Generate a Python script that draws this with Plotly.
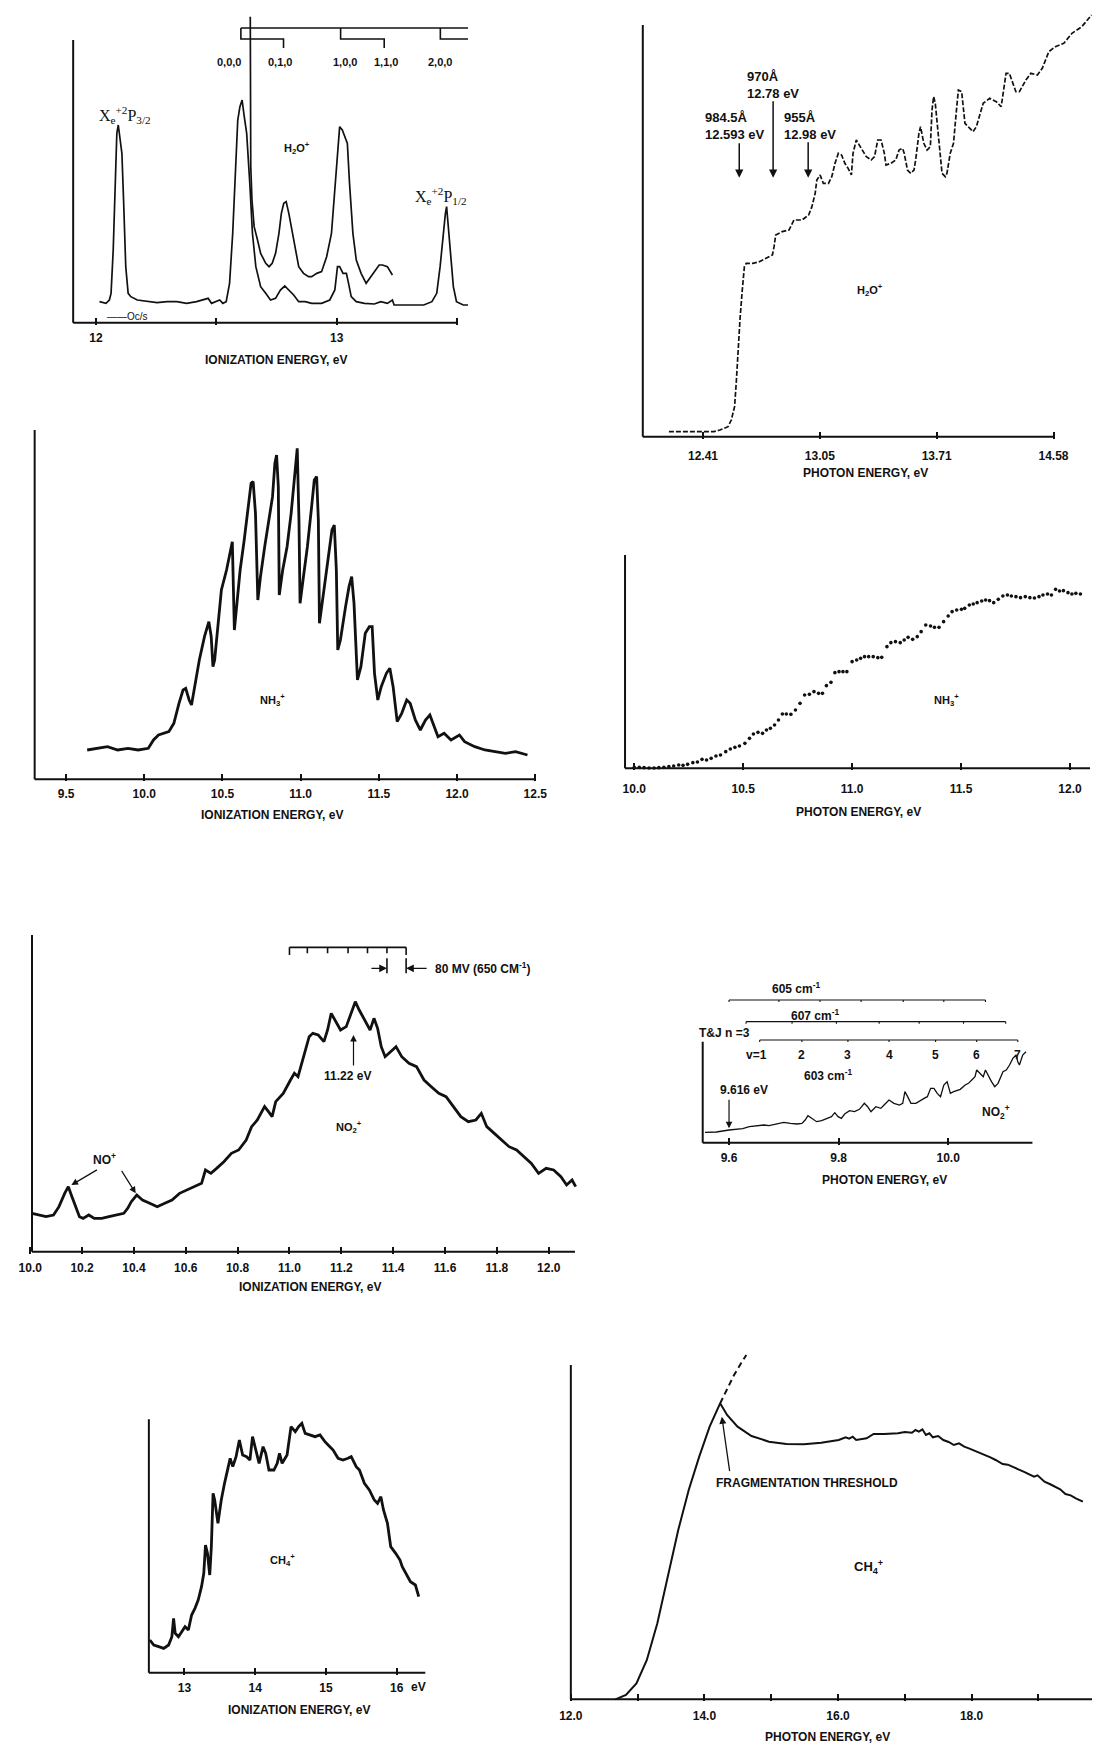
import plotly.graph_objects as go

W, H = 1097, 1745

# ---------------- DATA (intensities in arbitrary units) ----------------
# Panel 1: H2O+ photoelectron spectrum (ionization energy, eV)
h2o_pes_E = [12.015, 12.042, 12.056, 12.063, 12.072, 12.081, 12.087, 12.093, 12.101, 12.108,
             12.115, 12.124, 12.134, 12.145, 12.172, 12.213, 12.254, 12.295, 12.336, 12.377,
             12.418, 12.466, 12.480, 12.514, 12.527, 12.541, 12.555, 12.568, 12.579, 12.589,
             12.598, 12.607, 12.616, 12.626, 12.639, 12.650, 12.664, 12.684, 12.705, 12.725,
             12.746, 12.766, 12.784, 12.801, 12.821, 12.842, 12.869, 12.896, 12.937, 12.971,
             12.992, 13.003, 13.012, 13.026, 13.040, 13.049, 13.060, 13.081, 13.115, 13.156,
             13.183, 13.210, 13.231, 13.238, 13.279, 13.320, 13.361, 13.395, 13.415, 13.429,
             13.440, 13.451, 13.456, 13.463, 13.473, 13.484, 13.497, 13.525, 13.545]
h2o_pes_I = [63, 58, 68, 88, 218, 418, 568, 593, 548, 508,
             368, 168, 88, 78, 68, 63, 60, 63, 63, 58,
             63, 73, 58, 68, 58, 63, 118, 268, 468, 608,
             648, 668, 618, 568, 418, 268, 168, 108, 88, 68,
             73, 98, 110, 98, 83, 63, 63, 58, 58, 68,
             98, 168, 168, 148, 148, 118, 78, 63, 58, 56,
             63, 58, 68, 53, 53, 53, 53, 63, 88, 168,
             258, 328, 348, 288, 208, 108, 63, 53, 53]
h2o_pes_hi_E = [12.641, 12.641, 12.643, 12.648, 12.657, 12.671, 12.684, 12.705, 12.719, 12.732,
                12.746, 12.760, 12.770, 12.780, 12.790, 12.801, 12.814, 12.828, 12.842, 12.862,
                12.883, 12.896, 12.917, 12.937, 12.958, 12.978, 12.992, 13.003, 13.012, 13.023,
                13.033, 13.044, 13.053, 13.067, 13.081, 13.101, 13.122, 13.142, 13.163, 13.176,
                13.190, 13.210, 13.231]
h2o_pes_hi_I = [918, 668, 468, 368, 288, 248, 208, 178, 168, 178,
                208, 268, 328, 358, 363, 328, 278, 218, 168, 148,
                138, 138, 148, 153, 198, 268, 408, 518, 588, 578,
                558, 538, 418, 268, 188, 148, 118, 138, 158, 173,
                173, 168, 143]
h2o_levels = [12.602, 12.779, 13.016, 13.197, 13.430]   # 0,0,0  0,1,0  1,0,0  1,1,0  2,0,0
h2o_level_labels = ["0,0,0", "0,1,0", "1,0,0", "1,1,0", "2,0,0"]
h2o_comb_end = 13.545
h2o_pes_ticks = [12, 13]
h2o_pes_minor = [12.5, 13.5]

# Panel 2: H2O+ photoionization (axis linear in wavelength, Angstrom)
h2o_pi_wl = [1014.6, 1010.0, 1005.1, 1000.1, 995.4, 992.8, 990.7, 989.3, 987.9, 986.5,
             985.8, 985.1, 984.1, 983.2, 982.3, 981.5, 978.7, 975.9, 973.1, 970.3,
             969.6, 968.9, 966.1, 963.2, 961.1, 957.6, 954.8, 953.4, 952.0, 951.3,
             949.9, 948.5, 946.3, 944.9, 943.5, 942.1, 940.7, 939.3, 937.9, 936.5,
             935.8, 934.4, 932.3, 930.1, 928.0, 926.6, 925.2, 923.8, 922.4, 921.7,
             919.6, 917.5, 916.1, 914.6, 913.9, 912.5, 911.1, 909.7, 909.0, 907.6,
             906.9, 905.5, 904.1, 902.7, 902.0, 901.3, 900.6, 899.9, 898.7, 897.7,
             896.3, 895.6, 894.2, 892.8, 891.4, 890.7, 889.3, 887.9, 885.8, 884.4,
             883.0, 881.5, 880.1, 877.3, 874.5, 872.4, 871.0, 870.3, 868.9, 867.5,
             866.1, 864.6, 861.8, 859.7, 856.9, 854.8, 853.4, 852.0, 849.2, 845.6,
             842.1, 837.9, 833.7]
h2o_pi_I = [15, 15, 15, 15, 15, 20, 25, 30, 50, 90,
            160, 260, 360, 440, 510, 520, 520, 525, 535, 545,
            570, 605, 615, 620, 650, 650, 665, 690, 730, 770,
            785, 760, 760, 780, 820, 850, 845, 820, 805, 785,
            850, 890, 865, 840, 830, 840, 890, 890, 850, 815,
            820, 830, 860, 865, 850, 800, 790, 800, 830, 910,
            930, 880, 860, 870, 980, 1020, 1000, 950, 860, 790,
            780, 790, 850, 880, 990, 1040, 1035, 940, 925, 915,
            930, 970, 1000, 1015, 1005, 990, 1050, 1090, 1090, 1065,
            1035, 1035, 1070, 1090, 1085, 1105, 1130, 1155, 1170, 1180,
            1210, 1230, 1265]
h2o_pi_tick_wl = [1000, 950, 900, 850]
h2o_pi_ticktext = ["12.41", "13.05", "13.71", "14.58"]
h2o_pi_marks_wl = [984.5, 970, 955]
h2o_pi_marks_text = ["984.5Å<br>12.593 eV", "970Å<br>12.78 eV", "955Å<br>12.98 eV"]

# Panel 3: NH3+ photoelectron spectrum
nh3_pes_E = [9.635, 9.700, 9.765, 9.830, 9.896, 9.961, 10.026, 10.059, 10.091, 10.157,
             10.189, 10.222, 10.248, 10.265, 10.287, 10.302, 10.320, 10.352, 10.385, 10.413,
             10.428, 10.439, 10.450, 10.472, 10.493, 10.526, 10.552, 10.563, 10.576, 10.591,
             10.613, 10.639, 10.667, 10.683, 10.696, 10.711, 10.726, 10.743, 10.770, 10.798,
             10.820, 10.835, 10.846, 10.857, 10.863, 10.885, 10.913, 10.939, 10.961, 10.978,
             10.989, 10.996, 11.015, 11.043, 11.070, 11.087, 11.102, 11.113, 11.120, 11.135,
             11.157, 11.183, 11.200, 11.215, 11.228, 11.237, 11.254, 11.287, 11.309, 11.326,
             11.341, 11.363, 11.385, 11.413, 11.439, 11.457, 11.472, 11.493, 11.515, 11.548,
             11.570, 11.591, 11.617, 11.646, 11.678, 11.700, 11.733, 11.765, 11.798, 11.826,
             11.852, 11.878, 11.917, 11.961, 12.015, 12.048, 12.113, 12.178, 12.243, 12.309,
             12.374, 12.450]
nh3_pes_I = [88, 93, 98, 88, 93, 88, 93, 118, 133, 143,
             168, 228, 268, 273, 238, 223, 268, 358, 428, 473,
             428, 338, 358, 478, 568, 628, 688, 713, 448, 518,
             628, 718, 828, 888, 893, 798, 538, 608, 698, 788,
             848, 948, 973, 878, 553, 628, 698, 798, 918, 993,
             778, 528, 598, 698, 818, 898, 908, 778, 468, 518,
             598, 678, 748, 763, 628, 388, 418, 518, 578, 608,
             528, 298, 338, 438, 458, 458, 318, 238, 278, 318,
             333, 278, 173, 198, 238, 228, 178, 148, 178, 193,
             158, 128, 138, 118, 133, 113, 98, 88, 83, 78,
             83, 73]
nh3_pes_ticks = [9.5, 10.0, 10.5, 11.0, 11.5, 12.0, 12.5]

# Panel 4: NH3+ photoionization (dots)
nh3_pi_E = [10.000, 10.023, 10.045, 10.068, 10.091, 10.113, 10.136, 10.159, 10.181, 10.204,
            10.224, 10.245, 10.269, 10.290, 10.311, 10.332, 10.353, 10.375, 10.396, 10.420,
            10.441, 10.462, 10.483, 10.508, 10.529, 10.547, 10.568, 10.589, 10.607, 10.625,
            10.644, 10.662, 10.680, 10.698, 10.719, 10.740, 10.761, 10.782, 10.804, 10.825,
            10.846, 10.864, 10.882, 10.903, 10.921, 10.940, 10.958, 10.976, 11.000, 11.021,
            11.039, 11.057, 11.076, 11.097, 11.118, 11.136, 11.160, 11.178, 11.199, 11.221,
            11.239, 11.257, 11.278, 11.299, 11.317, 11.338, 11.360, 11.378, 11.399, 11.420,
            11.441, 11.459, 11.480, 11.502, 11.517, 11.538, 11.556, 11.574, 11.595, 11.613,
            11.631, 11.650, 11.671, 11.692, 11.713, 11.731, 11.752, 11.773, 11.795, 11.816,
            11.837, 11.858, 11.876, 11.897, 11.915, 11.934, 11.952, 11.970, 11.991, 12.009,
            12.027, 12.048]
nh3_pi_I = [3, 3, 2, 1, 1, 2, 3, 5, 7, 10,
            9, 12, 17, 19, 27, 25, 30, 37, 40, 50,
            58, 63, 67, 75, 90, 103, 108, 105, 115, 120,
            130, 145, 163, 163, 162, 175, 195, 220, 222, 230,
            225, 225, 248, 258, 287, 290, 290, 290, 320, 325,
            330, 335, 335, 335, 332, 333, 365, 377, 380, 377,
            385, 393, 387, 395, 410, 430, 427, 423, 423, 440,
            457, 470, 475, 477, 480, 490, 493, 497, 502, 505,
            503, 497, 507, 517, 520, 517, 515, 512, 515, 512,
            511, 515, 520, 523, 520, 537, 532, 533, 527, 523,
            525, 523]
nh3_pi_ticks = [10.0, 10.5, 11.0, 11.5, 12.0]

# Panel 5: NO2+ photoelectron spectrum
no2_pes_E = [10.007, 10.033, 10.061, 10.090, 10.111, 10.133, 10.147, 10.161, 10.176, 10.190,
             10.204, 10.226, 10.247, 10.276, 10.304, 10.333, 10.361, 10.376, 10.390, 10.411,
             10.433, 10.461, 10.490, 10.519, 10.547, 10.576, 10.604, 10.633, 10.661, 10.676,
             10.697, 10.719, 10.747, 10.776, 10.804, 10.833, 10.854, 10.876, 10.904, 10.919,
             10.933, 10.947, 10.976, 11.004, 11.019, 11.033, 11.047, 11.061, 11.076, 11.090,
             11.111, 11.133, 11.147, 11.161, 11.176, 11.197, 11.219, 11.240, 11.254, 11.269,
             11.290, 11.311, 11.326, 11.340, 11.354, 11.369, 11.390, 11.411, 11.433, 11.461,
             11.490, 11.519, 11.547, 11.576, 11.604, 11.633, 11.661, 11.690, 11.719, 11.740,
             11.761, 11.790, 11.819, 11.847, 11.876, 11.904, 11.933, 11.961, 11.990, 12.019,
             12.047, 12.069, 12.090, 12.104]
no2_pes_I = [115, 110, 105, 110, 135, 175, 195, 165, 135, 105,
             100, 110, 100, 100, 105, 110, 115, 130, 150, 170,
             155, 145, 135, 145, 155, 175, 185, 195, 205, 245,
             235, 250, 270, 295, 305, 335, 375, 395, 435, 420,
             405, 450, 475, 515, 535, 525, 565, 605, 645, 655,
             650, 630, 665, 715, 695, 665, 675, 720, 750, 725,
             695, 665, 700, 670, 615, 585, 600, 615, 585, 565,
             555, 515, 495, 475, 465, 435, 405, 390, 395, 415,
             375, 355, 335, 315, 305, 285, 265, 235, 250, 245,
             225, 200, 215, 195]
no2_pes_ticks = [10.0, 10.2, 10.4, 10.6, 10.8, 11.0, 11.2, 11.4, 11.6, 11.8, 12.0]
no2_vib_comb = [11.000, 11.069, 11.147, 11.226, 11.301, 11.376, 11.450]
no_plus_peaks = [(10.159, 200), (10.407, 175)]
no2_peak_mark = (11.247, 650)

# Panel 6: NO2+ photoionization
no2_pi_E = [9.556, 9.577, 9.600, 9.613, 9.625, 9.637, 9.649, 9.664, 9.673, 9.685,
            9.700, 9.712, 9.724, 9.733, 9.739, 9.744, 9.751, 9.760, 9.769, 9.778,
            9.787, 9.793, 9.799, 9.805, 9.811, 9.820, 9.829, 9.838, 9.847, 9.853,
            9.859, 9.868, 9.877, 9.883, 9.892, 9.901, 9.911, 9.917, 9.921, 9.926,
            9.932, 9.941, 9.950, 9.956, 9.962, 9.968, 9.974, 9.980, 9.986, 9.992,
            9.998, 10.004, 10.010, 10.016, 10.022, 10.031, 10.037, 10.043, 10.049, 10.052,
            10.058, 10.064, 10.068, 10.073, 10.079, 10.085, 10.091, 10.100, 10.106, 10.112,
            10.118, 10.124, 10.127, 10.130, 10.136, 10.142]
no2_pi_I = [31, 32, 38, 40, 42, 48, 50, 53, 51, 56,
            61, 58, 56, 58, 68, 81, 73, 63, 66, 73,
            78, 90, 78, 73, 86, 96, 93, 100, 118, 108,
            93, 108, 103, 113, 128, 118, 113, 118, 153, 138,
            118, 118, 128, 133, 138, 163, 163, 148, 138, 173,
            183, 148, 153, 156, 160, 173, 178, 188, 198, 218,
            208, 198, 218, 200, 183, 168, 178, 213, 218, 233,
            253, 263, 243, 233, 263, 273]
no2_pi_ticks = [9.6, 9.8, 10.0]
comb_605 = [9.600, 9.691, 9.766, 9.841, 9.918, 9.992, 10.068]
comb_607 = [9.631, 9.715, 9.796, 9.874, 9.947, 10.028, 10.105]
comb_603 = [9.656, 9.733, 9.817, 9.892, 9.977, 10.052, 10.127]
comb_603_labels = ["v=1", "2", "3", "4", "5", "6", "7"]
no2_threshold = 9.600

# Panel 7: CH4+ photoelectron spectrum
ch4_pes_E = [12.512, 12.567, 12.637, 12.707, 12.777, 12.823, 12.847, 12.870, 12.916, 12.963,
             13.009, 13.056, 13.102, 13.149, 13.195, 13.242, 13.274, 13.298, 13.326, 13.358,
             13.381, 13.405, 13.428, 13.474, 13.521, 13.567, 13.614, 13.647, 13.684, 13.730,
             13.777, 13.823, 13.879, 13.926, 13.963, 14.009, 14.056, 14.112, 14.149, 14.195,
             14.265, 14.312, 14.344, 14.381, 14.451, 14.507, 14.567, 14.614, 14.660, 14.707,
             14.777, 14.847, 14.916, 14.986, 15.056, 15.102, 15.172, 15.242, 15.312, 15.358,
             15.428, 15.474, 15.544, 15.614, 15.684, 15.730, 15.777, 15.814, 15.870, 15.916,
             15.986, 16.047, 16.079, 16.126, 16.195, 16.265, 16.312]
ch4_pes_I = [98, 83, 78, 73, 83, 108, 163, 118, 108, 123,
             138, 128, 173, 193, 218, 258, 298, 383, 358, 293,
             378, 538, 518, 448, 518, 568, 618, 643, 618, 648,
             698, 653, 648, 638, 708, 668, 628, 678, 658, 608,
             608, 628, 658, 628, 653, 738, 723, 738, 748, 718,
             713, 708, 713, 693, 678, 668, 643, 638, 643, 648,
             618, 608, 568, 548, 518, 508, 528, 488, 448, 378,
             358, 338, 318, 298, 273, 263, 228]
ch4_pes_ticks = [13, 14, 15, 16]

# Panel 8: CH4+ photoionization
ch4_pi_E = [12.668, 12.825, 12.982, 13.138, 13.295, 13.452, 13.608, 13.765, 13.922, 14.078,
            14.235, 14.339, 14.496, 14.705, 14.966, 15.227, 15.488, 15.749, 16.010, 16.115,
            16.167, 16.220, 16.272, 16.428, 16.533, 16.689, 16.898, 17.002, 17.107, 17.159,
            17.211, 17.264, 17.316, 17.368, 17.420, 17.499, 17.577, 17.656, 17.734, 17.812,
            17.890, 17.969, 18.047, 18.126, 18.204, 18.282, 18.360, 18.413, 18.465, 18.543,
            18.621, 18.700, 18.778, 18.856, 18.935, 18.987, 19.091, 19.170, 19.248, 19.326,
            19.405, 19.483, 19.561, 19.666]
ch4_pi_I = [0, 13, 48, 118, 228, 368, 508, 628, 728, 818,
            888, 853, 818, 790, 773, 766, 765, 770, 778, 786,
            782, 788, 778, 783, 796, 796, 798, 802, 800, 808,
            803, 810, 793, 798, 786, 790, 778, 772, 763, 768,
            758, 752, 746, 738, 733, 726, 718, 712, 706, 704,
            698, 690, 683, 676, 668, 672, 653, 646, 638, 630,
            616, 612, 603, 593]
ch4_pi_ext_E = [14.235, 14.339, 14.444, 14.548, 14.627]
ch4_pi_ext_I = [888, 928, 973, 1008, 1033]
ch4_pi_ticks = [12, 14, 16, 18]
ch4_pi_minor = [13, 15, 17, 19]
frag_threshold = (14.261, 848)

# ---------------- LAYOUT (pixel geometry of each panel) ----------------
def lin(cal, p):
    p1, v1, p2, v2 = cal
    return v1 + (p - p1) * (v2 - v1) / (p2 - p1)

# box = (left, right, top, bottom) px; xcal/ycal = (px, value, px, value)
# axes = (y-axis x px, y-axis top value, x-axis end px)
PANELS = {
    1: dict(box=(63, 472, 8, 324.7), xcal=(88, 12.0, 332, 13.0), ycal=(322.67, 0, 0, 968),
            axes=(65, 848, 454), standoff=4),
    2: dict(box=(640, 1097, 4, 438.7), xcal=(703, 1000, 1058, 850), ycal=(436.67, 0, 0, 1310),
            axes=(642, 1235, 1058), standoff=8),
    3: dict(box=(24, 540, 422, 781.3), xcal=(57.8, 9.5, 533.1, 12.5), ycal=(779.33, 0, 420, 1078),
            axes=(26, 1048, 533.1), standoff=4),
    4: dict(box=(622, 1097, 548, 770.3), xcal=(633.33, 10, 1074.67, 12), ycal=(768.33, 0, 530, 715),
            axes=(624, 640, 1095), standoff=10),
    5: dict(box=(19, 580, 928, 1253.7), xcal=(74, 10.2, 546.7, 12.0), ycal=(1251.67, 0, 920, 995),
            axes=(23.3, 950, 573.3), standoff=5),
    6: dict(box=(700, 1040, 975, 1144.7), xcal=(729.33, 9.6, 951.33, 10.0), ycal=(1142.67, 0, 970, 518),
            axes=(702.67, 303, 1036.67), standoff=4),
    7: dict(box=(139, 428, 1412, 1674.7), xcal=(177.67, 13, 392.67, 16), ycal=(1672.67, 0, 1360, 938),
            axes=(141.67, 760, 421.67), standoff=4),
    8: dict(box=(566, 1097, 1348, 1701.3), xcal=(569.1, 12, 1042.7, 19), ycal=(1699.33, 0, 1330, 1108),
            axes=(569.1, 1003, 1097), standoff=6),
}
TICKS = {
    1: (h2o_pes_ticks, [str(v) for v in h2o_pes_ticks], h2o_pes_minor),
    2: (h2o_pi_tick_wl, h2o_pi_ticktext, None),
    3: (nh3_pes_ticks, [f"{v:.1f}" for v in nh3_pes_ticks], None),
    4: (nh3_pi_ticks, [f"{v:.1f}" for v in nh3_pi_ticks], None),
    5: (no2_pes_ticks, [f"{v:.1f}" for v in no2_pes_ticks], None),
    6: (no2_pi_ticks, [f"{v:.1f}" for v in no2_pi_ticks], None),
    7: (ch4_pes_ticks, [str(v) for v in ch4_pes_ticks], None),
    8: (ch4_pi_ticks, [f"{v:.1f}" for v in ch4_pi_ticks], ch4_pi_minor),
}

FONT = "Liberation Sans"
BLACK = "#111111"


def refs(k):
    return ("x" if k == 1 else f"x{k}"), ("y" if k == 1 else f"y{k}")


fig = go.Figure()
layout = dict(width=W, height=H, margin=dict(l=0, r=0, t=0, b=0), autosize=False,
              paper_bgcolor="white", plot_bgcolor="rgba(0,0,0,0)", showlegend=False)
shapes, annotations = [], []

for k, p in PANELS.items():
    L, R, T, B = p["box"]
    xn = "xaxis" if k == 1 else f"xaxis{k}"
    yn = "yaxis" if k == 1 else f"yaxis{k}"
    xr, yr = refs(k)
    tv, tt, mv = TICKS[k]
    xa = dict(domain=[L / W, R / W], range=[lin(p["xcal"], L), lin(p["xcal"], R)],
              anchor=yr, showgrid=False, zeroline=False, showline=False,
              ticks="inside", ticklen=7, tickwidth=1.6, tickcolor=BLACK,
              tickvals=tv, ticktext=tt, ticklabelstandoff=p["standoff"],
              tickfont=dict(family=FONT, size=12, color=BLACK, weight="bold"))
    if mv:
        xa["minor"] = dict(tickvals=mv, ticks="inside", ticklen=7, tickwidth=1.6,
                           tickcolor=BLACK, showgrid=False)
    layout[xn] = xa
    layout[yn] = dict(domain=[1 - B / H, 1 - T / H], range=[lin(p["ycal"], B), lin(p["ycal"], T)],
                      anchor=xr, visible=False)
    yx, ytop, xend = p["axes"]
    x0v = lin(p["xcal"], yx)
    x1v = lin(p["xcal"], xend)
    shapes.append(dict(type="line", xref=xr, yref=yr, x0=x0v, x1=x0v, y0=0, y1=ytop,
                       line=dict(color=BLACK, width=2)))
    shapes.append(dict(type="line", xref=xr, yref=yr, x0=x0v, x1=x1v, y0=0, y1=0,
                       line=dict(color=BLACK, width=2)))


def line(k, x, y, width=2.0, dash="solid"):
    xr, yr = refs(k)
    fig.add_trace(go.Scatter(x=x, y=y, xaxis=xr, yaxis=yr, mode="lines", hoverinfo="skip",
                             line=dict(color=BLACK, width=width, dash=dash)))


def txt(px, py, text, size=12, family=FONT, weight="bold", xanchor="center", align="center"):
    annotations.append(dict(x=px / W, y=1 - py / H, xref="paper", yref="paper", text=text,
                            showarrow=False, xanchor=xanchor, yanchor="middle", align=align,
                            font=dict(family=family, size=size, color=BLACK, weight=weight)))


def arrow(k, x, y, ax, ay, width=1.3, head=2):
    xr, yr = refs(k)
    annotations.append(dict(x=x, y=y, xref=xr, yref=yr, ax=ax, ay=ay, axref="pixel", ayref="pixel",
                            text="", showarrow=True, arrowhead=head, arrowsize=1.1,
                            arrowwidth=width, arrowcolor=BLACK))


def comb(k, levels, y0, tick, width=1.2, end_tick=None):
    xs, ys = [levels[0], levels[-1], None], [y0, y0, None]
    for i, e in enumerate(levels):
        t = end_tick if (end_tick and i in (0, len(levels) - 1)) else tick
        xs += [e, e, None]
        ys += [y0, y0 - t, None]
    line(k, xs, ys, width=width)


# ---- Panel 1 ----
line(1, h2o_pes_E, h2o_pes_I, width=1.7)
line(1, h2o_pes_hi_E, h2o_pes_hi_I, width=1.7)
main = [h2o_levels[0], h2o_levels[2], h2o_levels[4]]
bend = [h2o_levels[1], h2o_levels[3], h2o_comb_end]
cx, cy = [main[0], h2o_comb_end, None], [884, 884, None]
for m, b in zip(main, bend):
    cx += [m, m, b, b, None]
    cy += [884, 851, 851, 824 if b != h2o_comb_end else 851, None]
line(1, cx, cy, width=1.6)
for px, lab in zip([223.3, 275, 340, 381.7, 436.7], h2o_level_labels):
    txt(px, 62, lab, size=11)
txt(117.5, 115, "X<sub>e</sub><sup>+2</sup>P<sub>3/2</sub>", size=16, family="Liberation Serif", weight="normal")
txt(438, 196, "X<sub>e</sub><sup>+2</sup>P<sub>1/2</sub>", size=16, family="Liberation Serif", weight="normal")
txt(292, 148, "H<sub>2</sub>O<sup>+</sup>", size=11)
txt(97, 316.7, "——Oc/s", size=10, weight="normal", xanchor="left")
txt(270, 360, "IONIZATION ENERGY, eV", size=12)

# ---- Panel 2 ----
line(2, h2o_pi_wl, h2o_pi_I, width=1.7, dash="5px,2px")
for wl, ay in zip(h2o_pi_marks_wl, [-36, -78, -37]):
    arrow(2, wl, 777, 0, ay, width=1.5)
txt(702.7, 126.5, h2o_pi_marks_text[0], size=13, xanchor="left", align="left")
txt(746, 85, h2o_pi_marks_text[1], size=13, xanchor="left", align="left")
txt(783.3, 126.5, h2o_pi_marks_text[2], size=13, xanchor="left", align="left")
txt(871.7, 290, "H<sub>2</sub>O<sup>+</sup>", size=11)
txt(868, 472.7, "PHOTON ENERGY, eV", size=12)

# ---- Panel 3 ----
line(3, nh3_pes_E, nh3_pes_I, width=2.8)
txt(267, 700, "NH<sub>3</sub><sup>+</sup>", size=11)
txt(266.7, 815, "IONIZATION ENERGY, eV", size=12)

# ---- Panel 4 ----
fig.add_trace(go.Scatter(x=nh3_pi_E, y=nh3_pi_I, xaxis="x4", yaxis="y4", mode="markers",
                         hoverinfo="skip", marker=dict(color=BLACK, size=3.6)))
txt(950, 700, "NH<sub>3</sub><sup>+</sup>", size=11)
txt(860, 811.7, "PHOTON ENERGY, eV", size=12)

# ---- Panel 5 ----
line(5, no2_pes_E, no2_pes_I, width=2.8)
comb(5, no2_vib_comb, 913, 18, width=1.6, end_tick=23)
line(5, [no2_vib_comb[-2], no2_vib_comb[-2], None, no2_vib_comb[-1], no2_vib_comb[-1]],
     [880, 835, None, 880, 835], width=1.6)
arrow(5, no2_vib_comb[-2], 850, -17, 0, width=1.4)
arrow(5, no2_vib_comb[-1], 850, 22, 0, width=1.4)
txt(429, 968, "80 MV (650 CM<sup>-1</sup>)", size=12, xanchor="left")
arrow(5, no2_peak_mark[0], no2_peak_mark[1], 0, 32, width=1.2)
txt(342.4, 1076, "11.22 eV", size=12)
txt(344, 1126.7, "NO<sub>2</sub><sup>+</sup>", size=11)
txt(96.7, 1159.3, "NO<sup>+</sup>", size=12)
arrow(5, no_plus_peaks[0][0], no_plus_peaks[0][1], 27, -16, width=1.2)
arrow(5, no_plus_peaks[1][0], no_plus_peaks[1][1], -15, -24, width=1.2)
txt(304.8, 1287, "IONIZATION ENERGY, eV", size=12)

# ---- Panel 6 ----
line(6, no2_pi_E, no2_pi_I, width=1.3)
comb(6, comb_605, 428, 6, width=1.1)
comb(6, comb_607, 363, 6, width=1.1)
comb(6, comb_603, 308, 6, width=1.1)
xr6, yr6 = refs(6)
for e, lab in zip(comb_603, comb_603_labels):
    annotations.append(dict(x=e, y=263, xref=xr6, yref=yr6, text=lab, showarrow=False,
                            xshift=-3 if lab == "v=1" else 0,
                            font=dict(family=FONT, size=12, color=BLACK, weight="bold")))
txt(796.7, 988.3, "605 cm<sup>-1</sup>", size=12)
txt(816.7, 1015, "607 cm<sup>-1</sup>", size=12)
txt(725, 1033.3, "T&J n =3", size=12)
txt(830, 1075, "603 cm<sup>-1</sup>", size=12)
txt(745, 1090, "9.616 eV", size=12)
arrow(6, no2_threshold, 43, 0, -30, width=1.2)
txt(1000, 1111.7, "NO<sub>2</sub><sup>+</sup>", size=12)
txt(886.7, 1180, "PHOTON ENERGY, eV", size=12)

# ---- Panel 7 ----
line(7, ch4_pes_E, ch4_pes_I, width=2.8)
txt(276.7, 1560, "CH<sub>4</sub><sup>+</sup>", size=11)
txt(415, 1686.7, "eV", size=12)
txt(293.3, 1710, "IONIZATION ENERGY, eV", size=12)

# ---- Panel 8 ----
line(8, ch4_pi_E, ch4_pi_I, width=2.0)
line(8, ch4_pi_ext_E, ch4_pi_ext_I, width=2.0, dash="6px,4px")
arrow(8, frag_threshold[0], frag_threshold[1], 8, 56, width=1.3)
txt(808.2, 1482.7, "FRAGMENTATION THRESHOLD", size=12)
txt(870.4, 1566.7, "CH<sub>4</sub><sup>+</sup>", size=13)
txt(829.5, 1736.7, "PHOTON ENERGY, eV", size=12)

layout["shapes"] = shapes
layout["annotations"] = annotations
fig.update_layout(**layout)
fig.write_html("out.html")
